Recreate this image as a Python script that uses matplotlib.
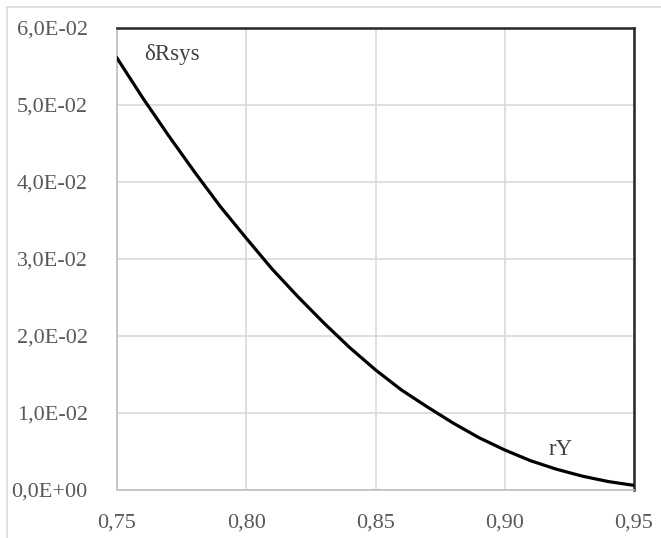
import matplotlib.pyplot as plt
import matplotlib.patches as patches
from matplotlib.ticker import FuncFormatter

# values
rY = [0.75, 0.76, 0.77, 0.78, 0.79, 0.80, 0.81, 0.82, 0.83, 0.84, 0.85,
      0.86, 0.87, 0.88, 0.89, 0.90, 0.91, 0.92, 0.93, 0.94, 0.95]
dRsys = [0.0561, 0.0509, 0.0460, 0.0413, 0.0368, 0.0327, 0.0287, 0.0251,
         0.0217, 0.0185, 0.0156, 0.0130, 0.0108, 0.0087, 0.0068, 0.0052,
         0.0038, 0.0027, 0.0018, 0.0011, 0.0006]
x_ticks = [0.75, 0.80, 0.85, 0.90, 0.95]
y_ticks = [0.0, 0.01, 0.02, 0.03, 0.04, 0.05, 0.06]

plt.rcParams["font.family"] = ["Liberation Serif", "DejaVu Serif"]

fig = plt.figure(figsize=(6.61, 5.38), dpi=100)
ax = fig.add_axes([117 / 661, 48 / 538, 517 / 661, 462 / 538])

ax.plot(rY, dRsys, color="black", linewidth=2.3, solid_joinstyle="round", zorder=3)

ax.set_xlim(0.75, 0.95)
ax.set_ylim(0, 0.06)
ax.set_xticks(x_ticks)
ax.set_yticks(y_ticks)
ax.xaxis.set_major_formatter(FuncFormatter(lambda v, p: f"{v:.2f}".replace(".", ",")))
ax.yaxis.set_major_formatter(FuncFormatter(lambda v, p: f"{v:.1E}".replace(".", ",")))
ax.tick_params(length=0, labelsize=16, labelcolor="#595959")
ax.tick_params(axis="y", pad=21)
ax.tick_params(axis="x", pad=17)

ax.grid(True, color="#d9d9d9", linewidth=1.2)
ax.set_axisbelow(True)

ax.spines["left"].set_color("#bfbfbf")
ax.spines["bottom"].set_color("#bfbfbf")
ax.spines["left"].set_linewidth(1.2)
ax.spines["bottom"].set_linewidth(1.2)
ax.spines["top"].set_color("#262626")
ax.spines["right"].set_color("#262626")
ax.spines["top"].set_linewidth(1.8)
ax.spines["right"].set_linewidth(1.8)

ax.text(0.7605, 0.0565, "δRsys", fontsize=16.5, color="#404040", va="center", ha="left")
ax.text(0.9218, 0.0052, "rY", fontsize=16.5, color="#404040", va="center", ha="center")

# light outer frame of the chart area
fig.patches.append(patches.Rectangle((7 / 661, -0.1), 1.2, (538 - 7) / 538 + 0.1,
                                     transform=fig.transFigure, fill=False,
                                     edgecolor="#d9d9d9", linewidth=1.2))

fig.savefig("out.png", dpi=100)
